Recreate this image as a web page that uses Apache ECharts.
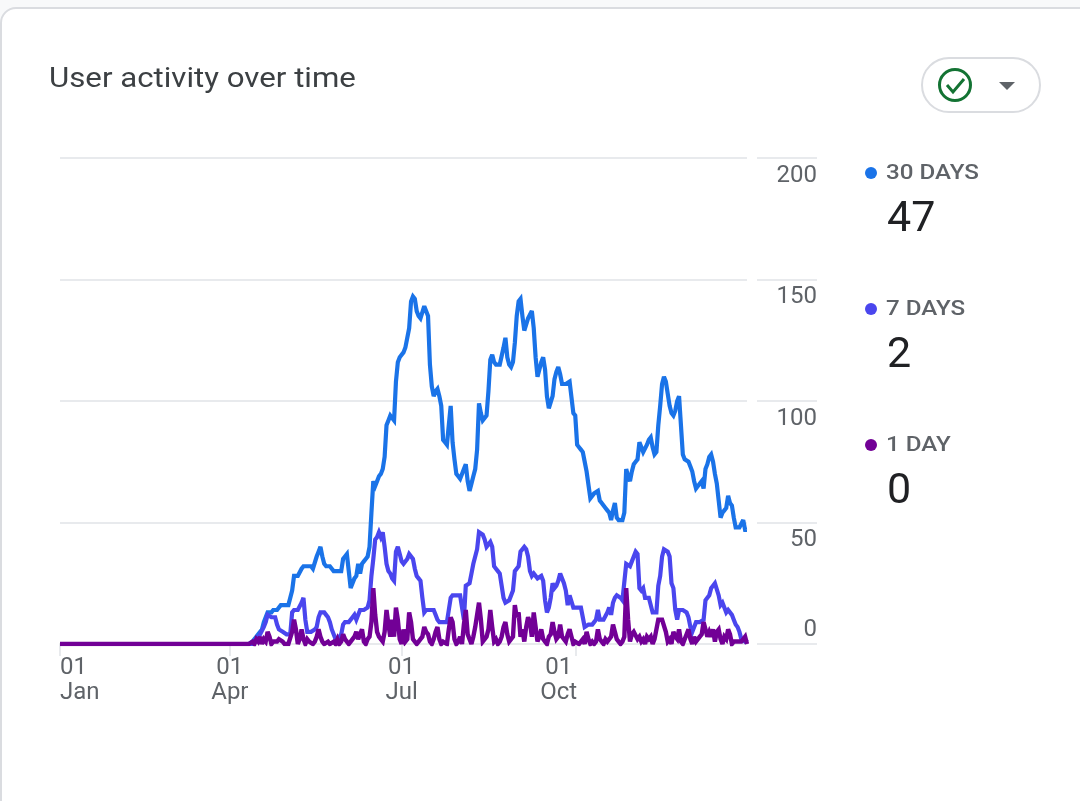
<!DOCTYPE html>
<html><head><meta charset="utf-8">
<style>html,body{margin:0;padding:0;background:#f8f9fa}#c{width:1080px;height:801px}</style>
<script src="https://cdn.jsdelivr.net/npm/echarts@6/dist/echarts.min.js"></script>
</head><body><div id="c"></div>
<script>
var title = 'User activity over time';
var yTicks = [0, 50, 100, 150, 200];
var tickDays = {0: ['01', 'Jan'], 90: ['01', 'Apr'], 181: ['01', 'Jul'], 273: ['01', 'Oct']};
var seriesNames = ['30 DAYS', '7 DAYS', '1 DAY'];
var latest = ['47', '2', '0'];
var colors = ['#1a73e8', '#4a46ee', '#720096'];
var leadingZeros = [
0,0,0,0,0,0,0,0,0,0,0,0,0,0,0,0,0,0,0,0,
0,0,0,0,0,0,0,0,0,0,0,0,0,0,0,0,0,0,0,0,
0,0,0,0,0,0,0,0,0,0,0,0,0,0,0,0,0,0,0,0,
0,0,0,0,0,0,0,0,0,0,0,0,0,0,0,0,0,0,0,0,
0,0,0,0,0,0,0,0,0,0,0,0,0,0,0,0,0,0,0,0];
var days30 = leadingZeros.concat([
0,0,1,1,3,4,4,6,9,11,13,13,13,14,14,14,15,16,16,16,16,16,16,22,28,28,28,28,31,32,
32,32,32,32,31,31,36,38,40,36,33,32,32,32,31,30,30,30,30,30,35,36,37,30,23,25,27,28,33,29,
33,34,35,36,40,54,67,65,67,69,70,72,77,90,92,94,93,92,108,116,118,118,120,122,122,130,141,143,142,137,
135,134,134,139,139,135,115,106,102,104,105,102,98,84,83,82,90,98,83,76,70,69,68,70,72,74,67,63,66,69,
72,80,99,95,92,93,94,104,117,119,116,115,115,115,115,122,126,118,115,114,116,124,135,141,142,135,129,129,134,134,
137,130,118,110,110,116,118,113,102,97,97,102,109,112,114,111,107,107,107,107,108,108,95,94,82,81,80,79,75,71,
71,60,60,62,62,63,59,58,57,56,55,54,51,55,58,52,51,51,51,54,72,69,67,71,74,75,76,83,83,79,
79,82,84,85,81,78,79,90,98,107,110,108,103,98,95,94,96,100,102,102,78,76,76,75,73,71,67,64,65,66,
67,64,72,74,77,78,75,70,66,59,52,54,55,56,61,58,57,52,48,48,48,48,51,47,47]);
var days7 = leadingZeros.concat([
0,0,0,1,2,3,4,4,7,9,12,12,11,11,11,8,6,6,5,5,4,4,4,13,14,14,14,14,17,19,
10,5,5,5,5,6,7,11,13,13,13,12,11,9,6,4,2,2,3,4,8,9,9,9,9,11,12,10,12,14,
14,14,14,15,18,28,35,43,44,46,44,46,40,33,30,29,27,26,38,40,37,34,33,33,35,37,37,35,31,28,
27,26,19,13,14,14,14,14,14,12,10,9,9,9,9,9,14,19,20,20,20,20,20,15,10,24,24,25,29,33,
33,39,46,46,45,43,40,41,42,40,32,31,30,29,24,19,17,17,18,20,22,30,30,32,38,39,40,39,36,30,
28,29,29,27,27,28,26,18,13,15,19,25,23,24,26,29,29,25,22,16,20,20,15,15,15,15,15,11,7,7,
8,8,8,9,10,14,10,10,10,10,13,15,12,17,19,20,20,19,18,18,33,33,32,34,36,38,37,23,22,23,
19,19,19,19,13,13,13,24,28,36,39,39,38,36,25,23,14,10,14,14,14,14,13,11,7,5,7,9,9,9,
9,10,18,18,20,23,24,25,25,20,16,17,15,13,14,14,12,10,8,7,5,2,2,1,2]);
var days1 = leadingZeros.concat([
0,0,1,0,2,1,3,0,2,1,5,3,0,1,1,1,2,2,1,0,0,0,0,5,10,6,0,2,6,2,
0,2,1,1,0,1,3,6,3,1,0,0,1,0,0,1,0,2,0,1,4,2,1,0,1,1,3,5,2,4,
6,1,0,2,3,9,23,12,5,3,2,1,5,14,8,3,10,3,15,10,2,0,6,1,2,13,9,2,1,0,
1,2,3,7,5,4,1,0,2,5,7,2,0,1,1,0,6,11,9,2,0,1,3,0,8,14,4,2,0,3,
7,12,17,10,1,1,3,6,14,7,1,2,0,1,3,7,9,4,1,2,3,16,11,13,3,6,1,7,11,9,
3,13,7,1,3,6,2,1,0,3,4,9,5,2,3,8,3,2,1,4,6,3,0,1,1,0,1,2,0,5,
2,0,1,0,1,6,2,1,0,2,1,2,3,8,5,2,1,0,1,3,23,10,1,4,5,5,2,3,1,2,
0,3,2,3,0,2,6,10,10,10,10,5,1,2,0,5,3,2,6,1,0,2,4,6,2,0,3,1,2,3,
4,9,9,3,5,3,6,1,5,6,2,0,3,2,6,4,0,1,1,1,1,1,1,3,0]);
var allValues = [days30, days7, days1];
var dayLabels = days30.map(function (_, i) { return tickDays[i] ? {
  value: tickDays[i].join('\n'),
  textStyle: i === 0 ? {align: 'left'} : (i === 273 ? {padding: [0, 33, 0, 0]} : {})
} : String(i); });
function isTick(i) { return !!tickDays[i]; }

var chart = echarts.init(document.getElementById('c'), null, {renderer: 'canvas'});
var fam = 'Roboto';
var gridColor = '#e8eaed';
var legendRows = [173, 309, 445];
var graphics = [
  {type: 'rect', z: -10, shape: {x: 1, y: 8, width: 1300, height: 1000, r: 15}, style: {fill: '#fff', stroke: '#dadce0', lineWidth: 2}},
  {type: 'text', x: 49, y: 80, scaleX: 1.135, style: {text: title, fill: '#3c4043', font: '400 27.5px ' + fam, textVerticalAlign: 'middle'}},
  {type: 'rect', shape: {x: 922, y: 58, width: 118, height: 54, r: 27}, style: {fill: '#fff', stroke: '#dadce0', lineWidth: 2}},
  {type: 'circle', shape: {cx: 955, cy: 85, r: 15.5}, style: {fill: 'none', stroke: '#137333', lineWidth: 3}},
  {type: 'polyline', shape: {points: [[947, 85], [953, 92], [964, 79]]}, style: {fill: 'none', stroke: '#137333', lineWidth: 3}},
  {type: 'polygon', shape: {points: [[999, 82], [1015, 82], [1007, 90]]}, style: {fill: '#5f6368'}}
];
seriesNames.forEach(function (n, i) {
  var y = legendRows[i];
  graphics.push({type: 'circle', shape: {cx: 871, cy: y, r: 6}, style: {fill: colors[i]}});
  graphics.push({type: 'text', x: 886, y: y + 1, scaleX: 1.15, style: {text: n, fill: '#5f6368', font: '500 21px ' + fam, textVerticalAlign: 'middle'}});
  graphics.push({type: 'text', x: 887, y: y + 47, style: {text: latest[i], fill: '#202124', font: '400 43px ' + fam, textVerticalAlign: 'middle'}});
});

chart.setOption({
  animation: false,
  backgroundColor: 'transparent',
  graphic: graphics,
  grid: [
    {left: 60, width: 687, top: 158, height: 486},
    {left: 757, width: 60, top: 158, height: 486}
  ],
  xAxis: [
    {type: 'category', gridIndex: 0, data: dayLabels, boundaryGap: false,
     axisLine: {lineStyle: {color: gridColor, width: 2}},
     axisTick: {show: true, length: 12, interval: function (i) { return isTick(i); }, lineStyle: {color: gridColor, width: 2}},
     axisLabel: {interval: function (i) { return isTick(i); }, formatter: function (v) { return v; },
       color: '#5f6368', fontFamily: fam, fontSize: 24, lineHeight: 25, margin: 11, hideOverlap: false}},
    {type: 'value', gridIndex: 1, show: false}
  ],
  yAxis: [
    {type: 'value', gridIndex: 0, min: 0, max: 200, interval: 50,
     axisLine: {show: false}, axisTick: {show: false}, axisLabel: {show: false},
     splitLine: {lineStyle: {color: gridColor, width: 2}}},
    {type: 'value', gridIndex: 1, position: 'right', min: 0, max: 200, interval: 50,
     axisLine: {show: false}, axisTick: {show: false},
     splitLine: {lineStyle: {color: gridColor, width: 2}},
     axisLabel: {inside: true, margin: 0, align: 'right', color: '#5f6368', fontFamily: fam, fontSize: 24,
       formatter: function (v) { return v === 0 ? '{z|0}' : '{n|' + v + '}'; },
       rich: {
         n: {color: '#5f6368', fontFamily: fam, fontSize: 24, padding: [35, 0, 0, 0]},
         z: {color: '#5f6368', fontFamily: fam, fontSize: 24, padding: [0, 0, 28, 0]}
       }}}
  ],
  series: seriesNames.map(function (n, i) {
    return {name: n, type: 'line', xAxisIndex: 0, yAxisIndex: 0, data: allValues[i], showSymbol: false,
      symbol: 'none', z: 3 + i, lineStyle: {color: colors[i], width: i === 2 ? 4.4 : 4.2, join: 'miter', miterLimit: 3}, itemStyle: {color: colors[i]}};
  })
});
</script></body></html>
